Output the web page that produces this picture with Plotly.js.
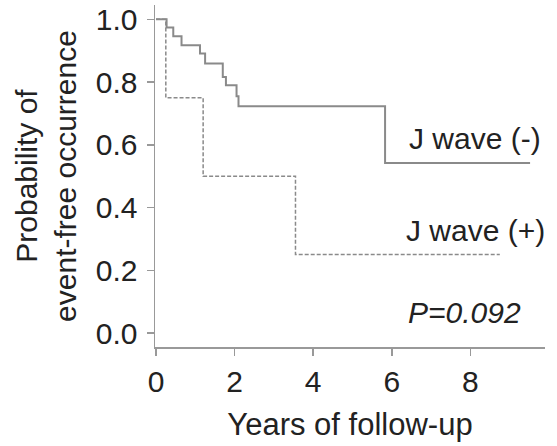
<!DOCTYPE html>
<html>
<head>
<meta charset="utf-8">
<script src="https://cdn.plot.ly/plotly-3.0.1.min.js"></script>
<style>html,body{margin:0;padding:0;background:#fff;}#chart{width:557px;height:446px;}</style>
</head>
<body>
<div id="chart"></div>
<script>
// J wave (-) Kaplan-Meier step curve
var negTimes = [0, 0.27, 0.44, 0.65, 1.12, 1.25, 1.70, 1.78, 2.05, 2.10, 5.83, 9.52];
var negSurv  = [1.0, 0.974, 0.946, 0.917, 0.891, 0.859, 0.816, 0.790, 0.755, 0.723, 0.542, 0.542];
// J wave (+) Kaplan-Meier step curve
var posTimes = [0, 0.25, 1.20, 3.55, 8.75];
var posSurv  = [1.0, 0.75, 0.50, 0.25, 0.25];

var labelNeg = "J wave (-)";
var labelPos = "J wave (+)";
var pText = "P=0.092";
var xTicks = [0, 2, 4, 6, 8];
var yTicks = [0.0, 0.2, 0.4, 0.6, 0.8, 1.0];

var FONT = '"Liberation Sans", Arial, sans-serif';
var TXT = '#222222';

var traces = [
  {x: negTimes, y: negSurv, mode: 'lines', line: {shape: 'hv', color: '#8a8a8a', width: 2}, name: labelNeg, showlegend: false, hoverinfo: 'skip'},
  {x: posTimes, y: posSurv, mode: 'lines', line: {shape: 'hv', color: '#8a8a8a', width: 1.5, dash: '4px,2px'}, name: labelPos, showlegend: false, hoverinfo: 'skip'}
];

var layout = {
  width: 557, height: 446,
  margin: {l: 155, r: 12, t: 5, b: 99},
  paper_bgcolor: '#fff', plot_bgcolor: '#fff',
  font: {family: FONT, size: 30, color: TXT},
  xaxis: {
    range: [-0.025, 9.9], tickvals: xTicks, ticktext: xTicks.map(String),
    showline: true, linecolor: '#999', linewidth: 1.5,
    ticks: 'outside', ticklen: 7, tickcolor: '#999', tickwidth: 1.5,
    showgrid: false, zeroline: false,
    tickfont: {family: FONT, size: 30, color: TXT},
    title: {text: 'Years of follow-up', font: {family: FONT, size: 31, color: TXT}, standoff: 17}
  },
  yaxis: {
    range: [-0.0446, 1.0456], tickvals: yTicks, ticktext: yTicks.map(function(v){return v.toFixed(1);}),
    showline: true, linecolor: '#999', linewidth: 1.5,
    ticks: 'outside', ticklen: 7, tickcolor: '#999', tickwidth: 1.5, ticklabelstandoff: 3,
    showgrid: false, zeroline: false,
    tickfont: {family: FONT, size: 30, color: TXT},
    title: {text: 'Probability of<br>event-free occurrence', font: {family: FONT, size: 30, color: TXT}, standoff: 10}
  },
  annotations: [
    {x: 8.13, y: 0.621, xref: 'x', yref: 'y', text: labelNeg, showarrow: false, xanchor: 'center', yanchor: 'middle', font: {family: FONT, size: 30, color: TXT}},
    {x: 8.13, y: 0.328, xref: 'x', yref: 'y', text: labelPos, showarrow: false, xanchor: 'center', yanchor: 'middle', font: {family: FONT, size: 30, color: TXT}},
    {x: 7.84, y: 0.064, xref: 'x', yref: 'y', text: '<i>' + pText + '</i>', showarrow: false, xanchor: 'center', yanchor: 'middle', font: {family: FONT, size: 30, color: TXT}}
  ]
};

Plotly.newPlot('chart', traces, layout, {displayModeBar: false, staticPlot: true});
</script>
</body>
</html>
